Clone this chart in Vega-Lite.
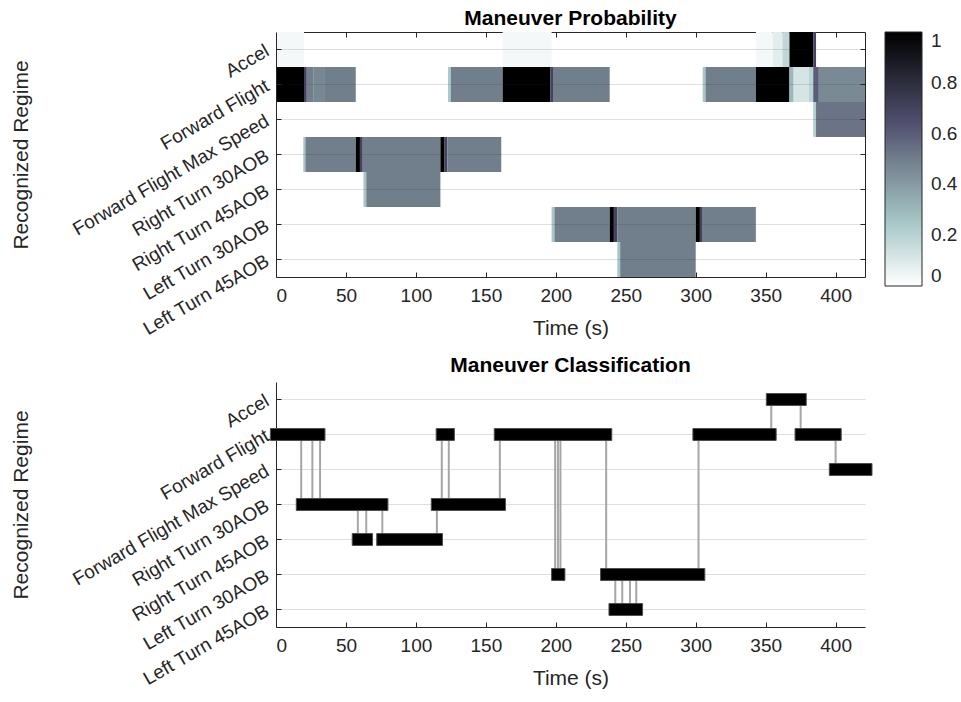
{
  "$schema": "https://vega.github.io/schema/vega-lite/v6.json",
  "background": "white",
  "padding": {"left": 10, "top": 7, "right": 5, "bottom": 5},
  "config": {
    "font": "Liberation Sans",
    "view": {"stroke": null},
    "axis": {
      "labelFont": "Liberation Sans",
      "labelFontSize": 19,
      "labelColor": "#262626",
      "labelLimit": 0,
      "titleFont": "Liberation Sans",
      "titleFontSize": 21,
      "titleFontWeight": "normal",
      "titleColor": "#262626",
      "domainColor": "#262626",
      "tickColor": "#262626",
      "gridColor": "#262626",
      "gridOpacity": 0.15
    },
    "title": {"font": "Liberation Sans", "fontSize": 21, "fontWeight": "bold", "color": "#000000"},
    "legend": {"labelFont": "Liberation Sans"}
  },
  "datasets": {
    "prob": [
      {"regime": "Accel", "start": 0, "end": 20, "p": 0.03},
      {"regime": "Accel", "start": 162, "end": 197, "p": 0.03},
      {"regime": "Accel", "start": 343, "end": 355, "p": 0.03},
      {"regime": "Accel", "start": 355, "end": 362, "p": 0.08},
      {"regime": "Accel", "start": 362, "end": 367, "p": 0.18},
      {"regime": "Accel", "start": 367, "end": 384, "p": 1.0},
      {"regime": "Accel", "start": 384, "end": 386, "p": 0.7},
      {"regime": "Forward Flight", "start": 0, "end": 20, "p": 1.0},
      {"regime": "Forward Flight", "start": 20, "end": 22, "p": 0.7},
      {"regime": "Forward Flight", "start": 22, "end": 27, "p": 0.5},
      {"regime": "Forward Flight", "start": 27, "end": 35, "p": 0.47},
      {"regime": "Forward Flight", "start": 35, "end": 57, "p": 0.5},
      {"regime": "Forward Flight", "start": 123, "end": 125, "p": 0.25},
      {"regime": "Forward Flight", "start": 125, "end": 162, "p": 0.5},
      {"regime": "Forward Flight", "start": 162, "end": 196, "p": 1.0},
      {"regime": "Forward Flight", "start": 196, "end": 198, "p": 0.7},
      {"regime": "Forward Flight", "start": 198, "end": 238.5, "p": 0.5},
      {"regime": "Forward Flight", "start": 305, "end": 307, "p": 0.25},
      {"regime": "Forward Flight", "start": 307, "end": 343, "p": 0.5},
      {"regime": "Forward Flight", "start": 343, "end": 367, "p": 1.0},
      {"regime": "Forward Flight", "start": 367, "end": 370, "p": 0.3},
      {"regime": "Forward Flight", "start": 370, "end": 381, "p": 0.12},
      {"regime": "Forward Flight", "start": 381, "end": 384, "p": 0.2},
      {"regime": "Forward Flight", "start": 384, "end": 388, "p": 0.6},
      {"regime": "Forward Flight", "start": 388, "end": 421, "p": 0.46},
      {"regime": "Forward Flight Max Speed", "start": 384, "end": 386, "p": 0.22},
      {"regime": "Forward Flight Max Speed", "start": 386, "end": 421, "p": 0.53},
      {"regime": "Right Turn 30AOB", "start": 19.5, "end": 21, "p": 0.25},
      {"regime": "Right Turn 30AOB", "start": 21, "end": 57, "p": 0.5},
      {"regime": "Right Turn 30AOB", "start": 57, "end": 60, "p": 1.0},
      {"regime": "Right Turn 30AOB", "start": 60, "end": 62, "p": 0.7},
      {"regime": "Right Turn 30AOB", "start": 62, "end": 117.5, "p": 0.5},
      {"regime": "Right Turn 30AOB", "start": 117.5, "end": 120.5, "p": 1.0},
      {"regime": "Right Turn 30AOB", "start": 120.5, "end": 122.5, "p": 0.7},
      {"regime": "Right Turn 30AOB", "start": 122.5, "end": 161, "p": 0.5},
      {"regime": "Right Turn 45AOB", "start": 62.5, "end": 64.5, "p": 0.25},
      {"regime": "Right Turn 45AOB", "start": 64.5, "end": 117.5, "p": 0.5},
      {"regime": "Left Turn 30AOB", "start": 197, "end": 199, "p": 0.25},
      {"regime": "Left Turn 30AOB", "start": 199, "end": 238.5, "p": 0.5},
      {"regime": "Left Turn 30AOB", "start": 238.5, "end": 241.5, "p": 1.0},
      {"regime": "Left Turn 30AOB", "start": 241.5, "end": 244, "p": 0.7},
      {"regime": "Left Turn 30AOB", "start": 244, "end": 300, "p": 0.5},
      {"regime": "Left Turn 30AOB", "start": 300, "end": 303, "p": 1.0},
      {"regime": "Left Turn 30AOB", "start": 303, "end": 305, "p": 0.7},
      {"regime": "Left Turn 30AOB", "start": 305, "end": 343, "p": 0.5},
      {"regime": "Left Turn 45AOB", "start": 244, "end": 246, "p": 0.25},
      {"regime": "Left Turn 45AOB", "start": 246, "end": 300, "p": 0.5}
    ],
    "segments": [
      {"regime": "Forward Flight", "start": -4, "end": 35},
      {"regime": "Right Turn 30AOB", "start": 14.5, "end": 80},
      {"regime": "Right Turn 45AOB", "start": 54.5, "end": 69},
      {"regime": "Right Turn 45AOB", "start": 72, "end": 119},
      {"regime": "Forward Flight", "start": 114.5, "end": 127.5},
      {"regime": "Right Turn 30AOB", "start": 111, "end": 164},
      {"regime": "Forward Flight", "start": 156, "end": 240},
      {"regime": "Left Turn 30AOB", "start": 197, "end": 206.5},
      {"regime": "Left Turn 30AOB", "start": 232, "end": 306.5},
      {"regime": "Left Turn 45AOB", "start": 238, "end": 262},
      {"regime": "Forward Flight", "start": 298, "end": 357.5},
      {"regime": "Accel", "start": 350.5, "end": 379},
      {"regime": "Forward Flight", "start": 371, "end": 404},
      {"regime": "Forward Flight Max Speed", "start": 395.5, "end": 426}
    ],
    "switches": [
      {"t": 18, "from": "Forward Flight", "to": "Right Turn 30AOB"},
      {"t": 26, "from": "Forward Flight", "to": "Right Turn 30AOB"},
      {"t": 31.5, "from": "Forward Flight", "to": "Right Turn 30AOB"},
      {"t": 58.5, "from": "Right Turn 30AOB", "to": "Right Turn 45AOB"},
      {"t": 64.5, "from": "Right Turn 30AOB", "to": "Right Turn 45AOB"},
      {"t": 76, "from": "Right Turn 30AOB", "to": "Right Turn 45AOB"},
      {"t": 115, "from": "Right Turn 30AOB", "to": "Right Turn 45AOB"},
      {"t": 118.5, "from": "Forward Flight", "to": "Right Turn 30AOB"},
      {"t": 123.5, "from": "Forward Flight", "to": "Right Turn 30AOB"},
      {"t": 160, "from": "Forward Flight", "to": "Right Turn 30AOB"},
      {"t": 199.5, "from": "Forward Flight", "to": "Left Turn 30AOB"},
      {"t": 201.5, "from": "Forward Flight", "to": "Left Turn 30AOB"},
      {"t": 203.3, "from": "Forward Flight", "to": "Left Turn 30AOB"},
      {"t": 236, "from": "Forward Flight", "to": "Left Turn 30AOB"},
      {"t": 242.5, "from": "Left Turn 30AOB", "to": "Left Turn 45AOB"},
      {"t": 247.5, "from": "Left Turn 30AOB", "to": "Left Turn 45AOB"},
      {"t": 253, "from": "Left Turn 30AOB", "to": "Left Turn 45AOB"},
      {"t": 257.5, "from": "Left Turn 30AOB", "to": "Left Turn 45AOB"},
      {"t": 302, "from": "Left Turn 30AOB", "to": "Forward Flight"},
      {"t": 354, "from": "Forward Flight", "to": "Accel"},
      {"t": 375, "from": "Accel", "to": "Forward Flight"},
      {"t": 400, "from": "Forward Flight", "to": "Forward Flight Max Speed"}
    ]
  },
  "vconcat": [
    {
      "title": {"text": "Maneuver Probability", "offset": 3},
      "width": 589,
      "height": 245,
      "data": {"name": "prob"},
      "layer": [
        {
          "mark": {"type": "rect"},
          "encoding": {
            "x": {
              "field": "start", "type": "quantitative",
              "scale": {"domain": [0, 421], "nice": false, "zero": false},
              "axis": {"title": "Time (s)", "values": [0, 50, 100, 150, 200, 250, 300, 350, 400], "tickSize": -5, "labelPadding": 14, "titlePadding": 12, "grid": false}
            },
            "x2": {"field": "end"},
            "y": {
              "field": "regime", "type": "nominal",
              "scale": {"domain": ["Accel", "Forward Flight", "Forward Flight Max Speed", "Right Turn 30AOB", "Right Turn 45AOB", "Left Turn 30AOB", "Left Turn 45AOB"], "paddingInner": 0, "paddingOuter": 0},
              "axis": {"title": "Recognized Regime", "labelAngle": -30, "labelAlign": "right", "labelBaseline": "middle", "tickSize": -5, "labelPadding": 14, "titlePadding": 45, "grid": true, "zindex": 1}
            },
            "color": {
              "field": "p", "type": "quantitative",
              "scale": {"domain": [0, 0.25, 0.5, 0.625, 1], "range": ["#ffffff", "#a7c7c7", "#717e8c", "#545474", "#000000"], "interpolate": "rgb"},
              "legend": {"title": null, "orient": "right", "direction": "vertical", "gradientLength": 254, "gradientThickness": 37, "gradientStrokeColor": "#262626", "gradientStrokeWidth": 1, "values": [0, 0.2, 0.4, 0.6, 0.8, 1], "format": "~g", "labelFontSize": 19, "labelColor": "#262626", "labelOffset": 9, "offset": 12}
            }
          }
        },
        {
          "mark": {"type": "rect", "opacity": 0},
          "encoding": {
            "x": {"field": "start", "type": "quantitative", "axis": {"orient": "top", "title": null, "labels": false, "values": [0, 50, 100, 150, 200, 250, 300, 350, 400], "tickSize": -5, "grid": false}},
            "x2": {"field": "end"},
            "y": {"field": "regime", "type": "nominal", "axis": {"orient": "right", "title": null, "labels": false, "tickSize": -5, "grid": false}}
          }
        }
      ],
      "resolve": {"axis": {"x": "independent", "y": "independent"}}
    },
    {
      "title": {"text": "Maneuver Classification", "offset": 6},
      "width": 589,
      "height": 245,
      "layer": [
        {
          "data": {"name": "switches"},
          "mark": {"type": "rule", "color": "#a6a6a6", "strokeWidth": 2},
          "encoding": {
            "x": {
              "field": "t", "type": "quantitative",
              "scale": {"domain": [0, 421], "nice": false, "zero": false},
              "axis": {"title": "Time (s)", "values": [0, 50, 100, 150, 200, 250, 300, 350, 400], "tickSize": -5, "labelPadding": 14, "titlePadding": 12, "grid": false}
            },
            "y": {
              "field": "from", "type": "nominal",
              "scale": {"domain": ["Accel", "Forward Flight", "Forward Flight Max Speed", "Right Turn 30AOB", "Right Turn 45AOB", "Left Turn 30AOB", "Left Turn 45AOB"], "paddingInner": 0, "paddingOuter": 0},
              "axis": {"title": "Recognized Regime", "labelAngle": -30, "labelAlign": "right", "labelBaseline": "middle", "tickSize": -5, "labelPadding": 14, "titlePadding": 45, "grid": true}
            },
            "y2": {"field": "to"}
          }
        },
        {
          "data": {"name": "segments"},
          "mark": {"type": "bar", "height": {"band": 0.34}, "color": "#000000", "stroke": "#4d4d4d", "strokeWidth": 1},
          "encoding": {
            "x": {"field": "start", "type": "quantitative"},
            "x2": {"field": "end"},
            "y": {"field": "regime", "type": "nominal"}
          }
        }
      ]
    }
  ],
  "spacing": 16
}
